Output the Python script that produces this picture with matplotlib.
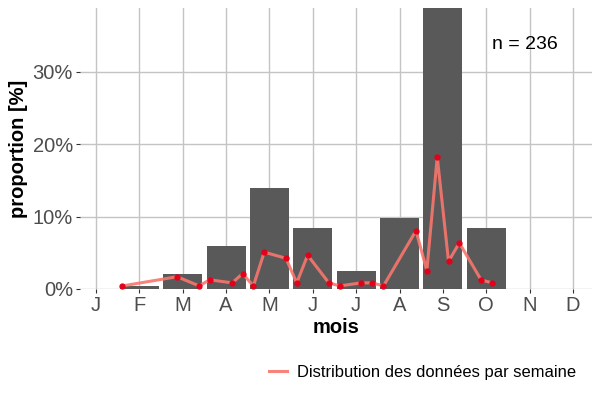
import numpy as np
import matplotlib
matplotlib.use("Agg")
import matplotlib.pyplot as plt
import matplotlib.ticker as mtick

plt.rcParams["font.family"] = ["Liberation Sans", "DejaVu Sans"]

# monthly share of records (n = 236)
months = np.arange(1, 13)
month_labels = ["J", "F", "M", "A", "M", "J", "J", "A", "S", "O", "N", "D"]
month_counts = [0, 1, 5, 14, 33, 20, 6, 23, 114, 20, 0, 0]
n_total = 236

# weekly share, x in month units
week_pos = [1.61, 2.87, 3.38, 3.62, 4.14, 4.38, 4.63, 4.88, 5.38, 5.63, 5.88,
            6.37, 6.62, 7.12, 7.37, 7.63, 8.38, 8.63, 8.87, 9.13, 9.38, 9.88, 10.13]
week_counts = [1, 4, 1, 3, 2, 5, 1, 12, 10, 2, 11,
               2, 1, 2, 2, 1, 19, 6, 43, 9, 15, 3, 2]

month_prop = np.array(month_counts) / n_total
week_prop = np.array(week_counts) / n_total

fig = plt.figure(figsize=(6, 4), dpi=100)
ax = fig.add_axes([0.1333, 0.2775, 0.8534, 0.7025])

ax.bar(months, month_prop, width=0.9, color="#595959", zorder=2)
ax.plot(week_pos, week_prop, color="#F8766D", linewidth=2.2, alpha=0.9, zorder=3,
        label="Distribution des données par semaine")
ax.plot(week_pos, week_prop, linestyle="none", marker="o", markersize=3.5,
        color="#E3001B", zorder=4)

ax.set_xlim(0.63, 12.44)
ax.set_ylim(0, 0.3876)
ax.set_xticks(months)
ax.set_xticklabels(month_labels)
ax.set_yticks([0, 0.1, 0.2, 0.3])
ax.yaxis.set_major_formatter(mtick.PercentFormatter(1.0, decimals=0))

ax.grid(True, color="#c4c4c4", linewidth=1.0, zorder=0)
ax.set_axisbelow(True)
for s in ax.spines.values():
    s.set_visible(False)
ax.tick_params(axis="both", length=3, width=0.8, color="#333333",
               labelsize=14.5, labelcolor="#4d4d4d", pad=2)

ax.set_xlabel("mois", fontsize=14.5, fontweight="bold", labelpad=2)
ax.set_ylabel("proportion [%]", fontsize=14.5, fontweight="bold", labelpad=3)

ax.text(10.9, 0.337, "n = 236", fontsize=14, ha="center", va="center", zorder=5)

fig.legend(loc="center right", bbox_to_anchor=(0.985, 0.07), frameon=False,
           fontsize=11.9, handlelength=1.1, handletextpad=0.6)

fig.savefig("out.png", dpi=100)
